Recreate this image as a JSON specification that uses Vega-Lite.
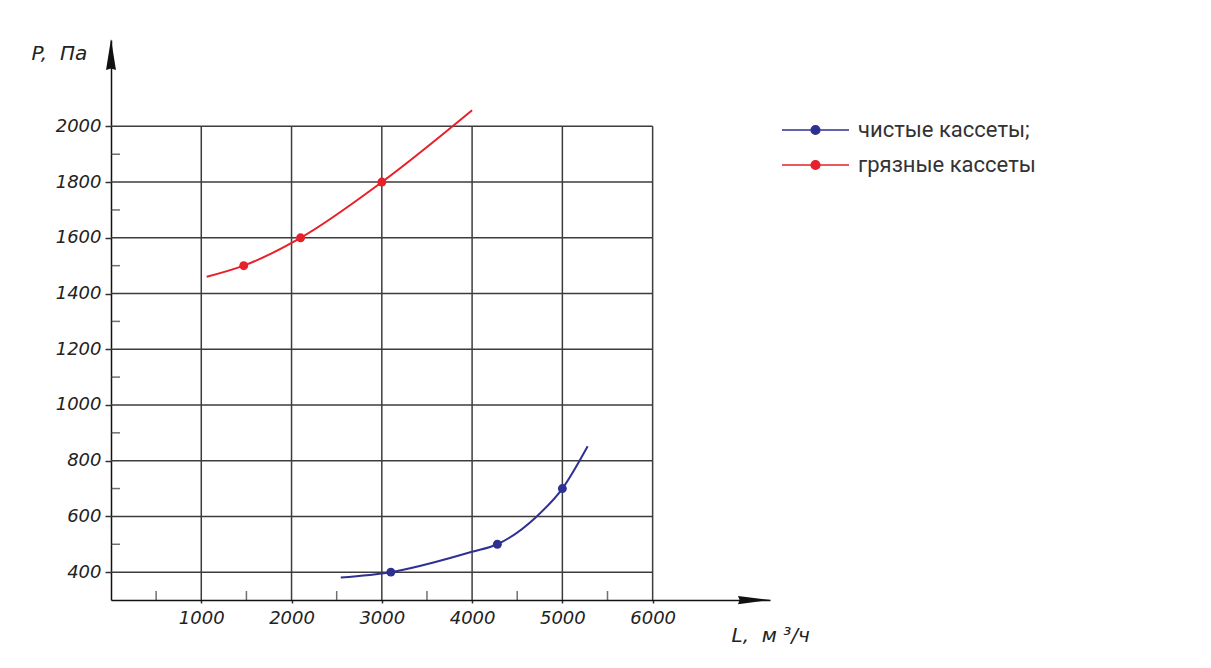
{
  "$schema": "https://vega.github.io/schema/vega-lite/v6.json",
  "width": 659,
  "height": 560,
  "autosize": {"type": "none"},
  "padding": {"left": 111, "top": 40, "right": 441, "bottom": 68},
  "background": "#ffffff",
  "config": {"view": {"stroke": null}},
  "datasets": {
    "curves": [
      {"series": "грязные кассеты", "L": 1060, "P": 1460},
      {"series": "грязные кассеты", "L": 1470, "P": 1500},
      {"series": "грязные кассеты", "L": 2100, "P": 1600},
      {"series": "грязные кассеты", "L": 3000, "P": 1800},
      {"series": "грязные кассеты", "L": 4000, "P": 2058},
      {"series": "чистые кассеты;", "L": 2545, "P": 381},
      {"series": "чистые кассеты;", "L": 3100, "P": 400},
      {"series": "чистые кассеты;", "L": 4000, "P": 473},
      {"series": "чистые кассеты;", "L": 4280, "P": 500},
      {"series": "чистые кассеты;", "L": 4716, "P": 600},
      {"series": "чистые кассеты;", "L": 5000, "P": 700},
      {"series": "чистые кассеты;", "L": 5280, "P": 852}
    ],
    "markers": [
      {"series": "грязные кассеты", "L": 1470, "P": 1500},
      {"series": "грязные кассеты", "L": 2100, "P": 1600},
      {"series": "грязные кассеты", "L": 3000, "P": 1800},
      {"series": "чистые кассеты;", "L": 3100, "P": 400},
      {"series": "чистые кассеты;", "L": 4280, "P": 500},
      {"series": "чистые кассеты;", "L": 5000, "P": 700}
    ],
    "gridL": [{"L": 1000}, {"L": 2000}, {"L": 3000}, {"L": 4000}, {"L": 5000}, {"L": 6000}],
    "gridP": [{"P": 400}, {"P": 600}, {"P": 800}, {"P": 1000}, {"P": 1200}, {"P": 1400}, {"P": 1600}, {"P": 1800}, {"P": 2000}],
    "minorL": [{"L": 500}, {"L": 1500}, {"L": 2500}, {"L": 3500}, {"L": 4500}, {"L": 5500}],
    "minorP": [{"P": 500}, {"P": 700}, {"P": 900}, {"P": 1100}, {"P": 1300}, {"P": 1500}, {"P": 1700}, {"P": 1900}],
    "arrowY": [{"L": 0, "P": 2258}],
    "arrowX": [{"L": 7128, "P": 300}]
  },
  "layer": [
    {
      "data": {"name": "gridL"},
      "mark": {"type": "rule", "color": "#3c3c3c", "strokeWidth": 1.5},
      "encoding": {
        "x": {"field": "L", "type": "quantitative", "scale": {"domain": [0, 7300], "nice": false, "zero": false}},
        "y": {"datum": 300, "type": "quantitative"},
        "y2": {"datum": 2000}
      }
    },
    {
      "data": {"name": "gridP"},
      "mark": {"type": "rule", "color": "#3c3c3c", "strokeWidth": 1.5},
      "encoding": {
        "y": {"field": "P", "type": "quantitative", "scale": {"domain": [300, 2310], "nice": false, "zero": false}},
        "x": {"datum": 0, "type": "quantitative"},
        "x2": {"datum": 6000}
      }
    },
    {
      "data": {"name": "minorP"},
      "mark": {"type": "tick", "orient": "horizontal", "color": "#333333", "thickness": 1.5, "size": 9, "xOffset": 4.5},
      "encoding": {
        "y": {"field": "P", "type": "quantitative"},
        "x": {"datum": 0, "type": "quantitative"}
      }
    },
    {
      "data": {"name": "minorL"},
      "mark": {"type": "tick", "orient": "vertical", "color": "#333333", "thickness": 1.5, "size": 9, "yOffset": -4.5},
      "encoding": {
        "x": {"field": "L", "type": "quantitative"},
        "y": {"datum": 300, "type": "quantitative"}
      }
    },
    {
      "data": {"name": "curves"},
      "mark": {"type": "line", "interpolate": "monotone", "strokeWidth": 2},
      "encoding": {
        "x": {
          "field": "L", "type": "quantitative",
          "axis": {
            "values": [1000, 2000, 3000, 4000, 5000, 6000],
            "format": "d",
            "grid": false,
            "domain": true, "domainColor": "#111111", "domainWidth": 1.5,
            "ticks": true, "tickSize": 3, "tickColor": "#333333", "tickWidth": 1.5,
            "labelPadding": 6, "labelFont": "DejaVu Sans", "labelFontStyle": "italic", "labelFontSize": 18, "labelColor": "#222222",
            "labelOverlap": false, "labelFlush": false,
            "title": "L,\u00a0\u00a0м\u00a0³/ч", "titleFont": "DejaVu Sans", "titleFontStyle": "italic", "titleFontWeight": "normal", "titleFontSize": 20, "titleColor": "#222222",
            "titleX": 620, "titleY": 35, "titleAlign": "left", "titleBaseline": "middle"
          }
        },
        "y": {
          "field": "P", "type": "quantitative",
          "axis": {
            "values": [400, 600, 800, 1000, 1200, 1400, 1600, 1800, 2000],
            "format": "d",
            "grid": false,
            "domain": true, "domainColor": "#111111", "domainWidth": 1.5,
            "ticks": true, "tickSize": 6, "tickColor": "#333333", "tickWidth": 1.5,
            "labelPadding": 4, "labelFont": "DejaVu Sans", "labelFontStyle": "italic", "labelFontSize": 18, "labelColor": "#222222",
            "labelOverlap": false, "labelFlush": false,
            "title": "P,\u00a0\u00a0Па", "titleFont": "DejaVu Sans", "titleFontStyle": "italic", "titleFontWeight": "normal", "titleFontSize": 20, "titleColor": "#222222",
            "titleX": -80, "titleY": 13, "titleAlign": "left", "titleBaseline": "middle", "titleAngle": 0
          }
        },
        "color": {
          "field": "series", "type": "nominal",
          "scale": {"domain": ["чистые кассеты;", "грязные кассеты"], "range": ["#2e3192", "#e8202a"]},
          "legend": {
            "title": null,
            "orient": "none", "legendX": 670, "legendY": 80,
            "padding": 0, "offset": 0,
            "symbolType": "M-1,0 L1,0 M0.13,0 A0.13,0.13 0 1 1 -0.13,0 A0.13,0.13 0 1 1 0.13,0 Z",
            "symbolSize": 4489, "symbolStrokeWidth": 1.5,
            "clipHeight": 20, "rowPadding": 13,
            "labelOffset": 8, "labelLimit": 400, "labelFont": "Roboto", "labelFontSize": 22, "labelColor": "#333333",
            "encode": {"symbols": {"update": {"fill": {"scale": "color", "field": "value"}, "stroke": {"scale": "color", "field": "value"}, "strokeWidth": {"value": 1.5}, "opacity": {"value": 1}}}}
          }
        }
      }
    },
    {
      "data": {"name": "markers"},
      "mark": {"type": "point", "filled": true, "shape": "circle", "size": 80, "opacity": 1},
      "encoding": {
        "x": {"field": "L", "type": "quantitative"},
        "y": {"field": "P", "type": "quantitative"},
        "color": {"field": "series", "type": "nominal", "legend": null}
      }
    },
    {
      "data": {"name": "arrowY"},
      "mark": {"type": "point", "filled": true, "color": "#111111", "opacity": 1, "size": 961, "shape": "M0,-1 L0.32,1 L0,0.9 L-0.32,1 Z"},
      "encoding": {
        "x": {"field": "L", "type": "quantitative"},
        "y": {"field": "P", "type": "quantitative"}
      }
    },
    {
      "data": {"name": "arrowX"},
      "mark": {"type": "point", "filled": true, "color": "#111111", "opacity": 1, "size": 1089, "shape": "M1,0 L-1,-0.25 L-0.9,0 L-1,0.25 Z"},
      "encoding": {
        "x": {"field": "L", "type": "quantitative"},
        "y": {"field": "P", "type": "quantitative"}
      }
    }
  ]
}
